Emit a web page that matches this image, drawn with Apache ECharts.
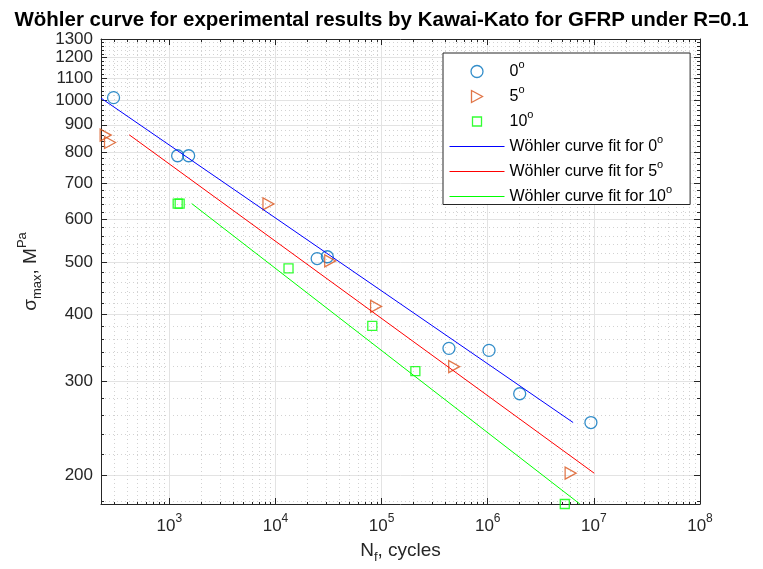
<!DOCTYPE html>
<html><head><meta charset="utf-8">
<script src="https://cdn.jsdelivr.net/npm/echarts@6/dist/echarts.min.js"></script>
<style>html,body{margin:0;padding:0;background:#fff}#c{width:763px;height:569px}</style>
</head><body><div id="c"></div>
<script>
// ---- data ----
const xTicks = [1e3, 1e4, 1e5, 1e6, 1e7, 1e8];
const xMinorTicks = [300,400,500,600,700,800,900,
  2000,3000,4000,5000,6000,7000,8000,9000,
  20000,30000,40000,50000,60000,70000,80000,90000,
  200000,300000,400000,500000,600000,700000,800000,900000,
  2000000,3000000,4000000,5000000,6000000,7000000,8000000,9000000,
  20000000,30000000,40000000,50000000,60000000,70000000,80000000,90000000];
const yTicks = [200,300,400,500,600,700,800,900,1000,1100,1200,1300];
const yMinorTicks = [180,220,240,260,280,320,340,360,380,420,440,460,480,
  520,540,560,580,620,640,660,680,720,740,760,780,820,840,860,880,
  920,940,960,980,1020,1040,1060,1080,1120,1140,1160,1180,1220,1240,1260,1280];
const xRange = [227, 1e8];
const yRange = [177, 1300];

const pts0 = [[298,1011],[1197,788],[1520,788],[24700,507],[30800,511],[431000,345],[1028000,342],[2000000,284],[9380000,251]];
const pts5 = [[251,861],[276,834],[8590,641],[32800,502],[88700,413],[483000,319],[6040000,202]];
const pts10 = [[1198,642],[1251,642],[13270,486],[81700,380],[208000,313],[5320000,177]];
const fit0 = [[227,1009],[6380000,251]];
const fit5 = [[419,862],[10070000,202]];
const fit10 = [[1623,642],[7380000,177]];

const angleLabels = ['0','5','10'];
const fitPrefix = 'Wöhler curve fit for ';
const titleText = 'Wöhler curve for experimental results by Kawai-Kato for GFRP under R=0.1';

// ---- chart ----
const FONT = 'Liberation Sans, Arial, Helvetica, sans-serif';
const AX = '#262626';
const C0 = '#0072BD', C5 = '#D95319', C10 = '#00FF00';
const F0 = '#0000FF', F5 = '#FF0000', F10 = '#00FF00';
const gridBox = {left: 101, right: 63, top: 39, bottom: 64};

function xAxisDef(grid, pos, ticks, len, withLabel, split) {
  return {
    type: 'log', logBase: 10, gridIndex: grid, position: pos,
    min: xRange[0], max: xRange[1],
    axisLine: {show: grid === 0, onZero: false, lineStyle: {color: AX, width: 1}},
    axisTick: {show: true, inside: true, length: len, customValues: ticks, lineStyle: {color: AX, width: 1}},
    axisLabel: withLabel ? {
      show: true, customValues: ticks, margin: 9, color: AX, fontFamily: FONT,
      formatter: v => '{b|10}{s|' + Math.round(Math.log10(v)) + '}',
      rich: {b: {fontSize: 17, lineHeight: 26, fontFamily: FONT, color: AX},
             s: {fontSize: 12, lineHeight: 10, verticalAlign: 'top', fontFamily: FONT, color: AX}}
    } : {show: false},
    splitLine: split ? Object.assign({show: true, customValues: ticks}, split) : {show: false},
    minorTick: {show: false}, minorSplitLine: {show: false}
  };
}
function yAxisDef(grid, pos, ticks, len, withLabel, split) {
  return {
    type: 'log', logBase: 10, gridIndex: grid, position: pos,
    min: yRange[0], max: yRange[1],
    axisLine: {show: grid === 0, onZero: false, lineStyle: {color: AX, width: 1}},
    axisTick: {show: true, inside: true, length: len, customValues: ticks, lineStyle: {color: AX, width: 1}},
    axisLabel: withLabel ? {
      show: true, customValues: ticks, margin: 8, color: AX, fontFamily: FONT, fontSize: 17,
      formatter: v => String(Math.round(v))
    } : {show: false},
    splitLine: split ? Object.assign({show: true, customValues: ticks}, split) : {show: false},
    minorTick: {show: false}, minorSplitLine: {show: false}
  };
}

const majorSplit = {lineStyle: {color: '#e3e3e3', width: 1, type: 'solid'}};
const minorSplit = {lineStyle: {color: '#d2d2d2', width: 1, type: [1, 3]}};

const xAxes = [
  xAxisDef(0, 'bottom', xTicks, 6, true, majorSplit),
  xAxisDef(0, 'top', xTicks, 6, false, null),
  xAxisDef(1, 'bottom', xMinorTicks, 3, false, minorSplit),
  xAxisDef(1, 'top', xMinorTicks, 3, false, null)
];
Object.assign(xAxes[0], {
  name: '{b|N}{sub|f}{b|, cycles}', nameLocation: 'middle', nameGap: 34,
  nameTextStyle: {fontFamily: FONT, color: AX, rich: {
    b: {fontSize: 19, lineHeight: 26, fontFamily: FONT, color: AX},
    sub: {fontSize: 13, lineHeight: 12, verticalAlign: 'bottom', fontFamily: FONT, color: AX}}}
});

const yAxes = [
  yAxisDef(0, 'left', yTicks, 6, true, majorSplit),
  yAxisDef(0, 'right', yTicks, 6, false, null),
  yAxisDef(1, 'left', yMinorTicks, 3, false, minorSplit),
  yAxisDef(1, 'right', yMinorTicks, 3, false, null)
];
Object.assign(yAxes[0], {
  name: '{b|σ}{sub|max}{b|, M}{sup|Pa}', nameLocation: 'middle', nameGap: 56, nameRotate: 90,
  nameTextStyle: {fontFamily: FONT, color: AX, rich: {
    b: {fontSize: 19, lineHeight: 28, fontFamily: FONT, color: AX},
    sub: {fontSize: 13, lineHeight: 12, verticalAlign: 'bottom', fontFamily: FONT, color: AX},
    sup: {fontSize: 13, lineHeight: 12, verticalAlign: 'top', fontFamily: FONT, color: AX}}}
});

function legendFmt(name) {
  if (name.indexOf('fit') === 0) return '{b|' + fitPrefix + name.slice(3) + '}{s|o}';
  return '{b|' + name + '}{s|o}';
}
const markStyle = c => ({color: 'transparent', borderColor: c, borderWidth: 1.3});
const hiddenDot = {color: 'transparent', borderColor: 'transparent', borderWidth: 0};

const option = {
  animation: false,
  backgroundColor: '#fff',
  title: {text: titleText, left: 'center', top: 5,
    textStyle: {fontFamily: FONT, fontSize: 20.5, fontWeight: 'bold', color: '#000'}},
  grid: [Object.assign({}, gridBox), Object.assign({}, gridBox)],
  xAxis: xAxes,
  yAxis: yAxes,
  legend: {
    orient: 'vertical', left: 443, top: 53,
    backgroundColor: '#fff', borderColor: AX, borderWidth: 1, borderRadius: 0,
    padding: [6.5, 18, 0, 6], itemWidth: 55, itemHeight: 13, itemGap: 5,
    symbolKeepAspect: true,
    data: [
      {name: angleLabels[0], icon: 'path://M0.5,6.5A6,6,0,1,0,12.5,6.5A6,6,0,1,0,0.5,6.5Z M0,0 M13,13', itemStyle: markStyle(C0)},
      {name: angleLabels[1], icon: 'path://M1,0.5L12,6.5L1,12.5Z M0,0 M13,13', itemStyle: markStyle(C5)},
      {name: angleLabels[2], icon: 'path://M2,2L11,2L11,11L2,11Z M0,0 M13,13', itemStyle: markStyle(C10)},
      {name: 'fit' + angleLabels[0], itemStyle: hiddenDot, lineStyle: {color: F0, width: 1}},
      {name: 'fit' + angleLabels[1], itemStyle: hiddenDot, lineStyle: {color: F5, width: 1}},
      {name: 'fit' + angleLabels[2], itemStyle: hiddenDot, lineStyle: {color: F10, width: 1}}
    ],
    formatter: legendFmt,
    textStyle: {fontFamily: FONT, color: '#000', rich: {
      b: {fontSize: 16, lineHeight: 24, fontFamily: FONT, color: '#000'},
      s: {fontSize: 11, lineHeight: 10, verticalAlign: 'top', fontFamily: FONT, color: '#000'}}}
  },
  series: [
    {name: angleLabels[0], type: 'scatter', data: pts0, symbol: 'circle', symbolSize: 12, clip: false,
      itemStyle: markStyle(C0)},
    {name: angleLabels[1], type: 'scatter', data: pts5, symbol: 'triangle', symbolSize: [12, 11], symbolRotate: -90, clip: false,
      itemStyle: markStyle(C5)},
    {name: angleLabels[2], type: 'scatter', data: pts10, symbol: 'rect', symbolSize: 9, clip: false,
      itemStyle: markStyle(C10)},
    {name: 'fit' + angleLabels[0], type: 'line', data: fit0, symbol: 'none', showSymbol: false,
      lineStyle: {color: F0, width: 1}, itemStyle: {color: F0}},
    {name: 'fit' + angleLabels[1], type: 'line', data: fit5, symbol: 'none', showSymbol: false,
      lineStyle: {color: F5, width: 1}, itemStyle: {color: F5}},
    {name: 'fit' + angleLabels[2], type: 'line', data: fit10, symbol: 'none', showSymbol: false,
      lineStyle: {color: F10, width: 1}, itemStyle: {color: F10}}
  ]
};
const chart = echarts.init(document.getElementById('c'), null, {renderer: 'canvas'});
chart.setOption(option);
</script></body></html>
